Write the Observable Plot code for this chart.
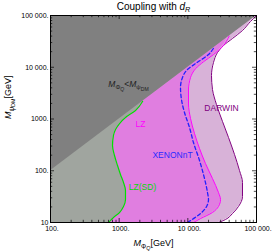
<!DOCTYPE html>
<html><head><meta charset="utf-8">
<script src="https://cdn.jsdelivr.net/npm/d3@7"></script>
<script src="https://cdn.jsdelivr.net/npm/@observablehq/plot@0.6"></script>
<style>html,body{margin:0;padding:0;background:#fff} svg{display:block}</style>
</head><body><div id="chart"></div>
<script>
// ---- data ----
const lzsdX = [700, 826, 1012, 1156, 1236, 1236, 1156, 1045, 946, 855, 800, 826, 885, 1012, 1236, 1730, 2200];
const lzsdY = [10, 12.5, 15.6, 20.4, 27.8, 41.5, 59.3, 84.7, 126, 197, 308, 480, 627, 818, 1069, 1459, 2200];

const lzX = [12080, 15280, 22850, 27940, 29900, 27940, 22850, 18070, 14790, 12500, 10940, 10230, 10230, 10940, 12950, 16900, 23640, 31990, 40000];
const lzY = [10, 11.9, 15.6, 20.4, 27.8, 38.0, 70.8, 138, 269, 525, 1024, 1950, 3630, 6340, 9380, 12770, 17600, 25180, 40000];

const xenonX = [9890, 12080, 15280, 18690, 19990, 19330, 16900, 14790, 12080, 10570, 8940, 8080, 7820, 8360, 9560, 12950, 19990, 24000];
const xenonY = [10, 11.9, 14.9, 20.2, 27.8, 38.0, 84.7, 158, 351, 686, 1336, 2380, 4060, 6340, 8650, 11800, 17600, 24000];

const darwinX = [27940, 35320, 44670, 54650, 62520, 62520, 56540, 47850, 39090, 31990, 26120, 22850, 22110, 23640, 27050, 33040, 44670, 62520, 81660, 100000];
const darwinY = [10, 11.4, 14.9, 20.4, 31.8, 59.3, 101, 206, 440, 895, 1905, 3720, 6930, 12360, 19280, 26300, 35950, 51290, 76560, 100000];

const xMajor = [100, 1000, 10000, 100000];
const xMajorLabels = ["100.", "1000.", "10 000.", "100 000."];
const yMajor = [10, 100, 1000, 10000, 100000];
const yMajorLabels = ["10", "100.", "1000.", "10 000.", "100 000."];

const titleText = "Coupling with d_R";
const xLabelText = "M_Φ_Q[GeV]";
const yLabelText = "M_ψ_DM[GeV]";
const regionText = "M_Φ_Q<M_ψ_DM";

// ---- layout ----
const W = 273, H = 252, mL = 50, mR = 17, mT = 15, mB = 30;
const fw = W - mL - mR, fh = H - mT - mB;
const xDom = [100, 100000], yDom = [10, 100000];

const pts = (X, Y) => X.map((x, i) => ({x, y: Y[i]}));
const green = pts(lzsdX, lzsdY), lz = pts(lzX, lzY), xenon = pts(xenonX, xenonY), darwin = pts(darwinX, darwinY);
// extend a region boundary along the diagonal M_DM = M_Phi (hidden under the grey triangle)
const diagSteps = [3000, 5000, 7000, 10000, 15000, 20000, 30000, 50000, 70000, 100000];
const ext = P => P.concat(diagSteps.filter(v => v > P[P.length - 1].y).map(v => ({x: v, y: v})));
const minorOf = (lo, hi) => { const o = []; for (let d = lo; d < hi; d *= 10) for (let k = 2; k <= 9; k++) o.push(k * d); return o; };
const xMinor = minorOf(xDom[0], xDom[1]), yMinor = minorOf(yDom[0], yDom[1]);

const annotations = [
  {t: regionText, x: 1368, y: 4640, c: "#1e1e1e"},
  {t: "LZ", x: 2046, y: 783, c: "#ff00ff"},
  {t: "XENONnT", x: 5985, y: 197, c: "#2a2aff"},
  {t: "LZ(SD)", x: 2188, y: 47.4, c: "#00dd00"},
  {t: "DARWIN", x: 30900, y: 1596, c: "#800080"}
];

const tick = {stroke: "black", strokeOpacity: 1, strokeWidth: 0.7};
const left = () => xDom[0];

const svg = Plot.plot({
  width: W, height: H, marginLeft: mL, marginRight: mR, marginTop: mT, marginBottom: mB,
  x: {type: "log", domain: xDom},
  y: {type: "log", domain: yDom},
  color: {type: "identity"},
  style: {fontFamily: "'Liberation Sans', Arial, sans-serif", fontSize: "7px", background: "white", color: "black", overflow: "visible"},
  marks: [
    Plot.areaX(ext(darwin), {y: "y", x1: left, x2: "x", fill: "#d8b2d8", curve: "monotone-y", clip: true}),
    Plot.areaX(ext(lz), {y: "y", x1: left, x2: "x", fill: "#e07ee0", curve: "monotone-y", clip: true}),
    Plot.areaX(ext(green), {y: "y", x1: left, x2: "x", fill: "#a0a59f", curve: "monotone-y", clip: true}),
    Plot.areaY(xDom, {x: d => d, y1: d => d, y2: () => yDom[1], fill: "#808080", clip: true}),
    Plot.line(darwin, {x: "x", y: "y", stroke: "#800080", strokeWidth: 1, curve: "monotone-y", clip: true}),
    Plot.line(lz, {x: "x", y: "y", stroke: "#ff00ff", strokeWidth: 1, curve: "monotone-y", clip: true}),
    Plot.line(xenon, {x: "x", y: "y", stroke: "#2020ff", strokeWidth: 1.3, strokeDasharray: "3.5,2.5", curve: "monotone-y", clip: true}),
    Plot.line(green, {x: "x", y: "y", stroke: "#00e000", strokeWidth: 1.2, curve: "monotone-y", clip: true}),
    Plot.frame({stroke: "black", strokeWidth: 1}),
    // inward ticks on all four sides
    Plot.gridX(xMajor, {...tick, insetTop: fh - 4}),
    Plot.gridX(xMajor, {...tick, insetBottom: fh - 4}),
    Plot.gridX(xMinor, {...tick, insetTop: fh - 2.2}),
    Plot.gridX(xMinor, {...tick, insetBottom: fh - 2.2}),
    Plot.gridY(yMajor, {...tick, insetRight: fw - 4}),
    Plot.gridY(yMajor, {...tick, insetLeft: fw - 4}),
    Plot.gridY(yMinor, {...tick, insetRight: fw - 2.2}),
    Plot.gridY(yMinor, {...tick, insetLeft: fw - 2.2}),
    Plot.axisX(xMajor, {anchor: "bottom", tickSize: 0, tickPadding: 4, dx: 1.5, label: null, fontSize: 7,
      tickFormat: d => xMajorLabels[xMajor.indexOf(d)]}),
    Plot.axisY(yMajor, {anchor: "left", tickSize: 0, tickPadding: 2, label: null, fontSize: 7,
      tickFormat: d => yMajorLabels[yMajor.indexOf(d)]}),
    Plot.text([titleText], {text: d => d, frameAnchor: "top", dy: -9, fontSize: 10, lineAnchor: "middle"}),
    Plot.text([xLabelText], {text: d => d, frameAnchor: "bottom", dy: 21, fontSize: 9, lineAnchor: "middle"}),
    Plot.text([yLabelText], {text: d => d, frameAnchor: "left", dx: -42, rotate: -90, fontSize: 9, lineAnchor: "middle"}),
    Plot.text(annotations, {x: "x", y: "y", text: "t", fill: "c", fontSize: 8.5, lineAnchor: "middle"})
  ]
});

// rich text (italic, subscripts)
const NS = "http://www.w3.org/2000/svg";
const richSpecs = {
  [titleText]: [{t: "Coupling with "}, {t: "d", i: 1}, {t: "R", i: 1, s: 1}],
  [xLabelText]: [{t: "M", i: 1}, {t: "Φ", s: 1}, {t: "Q", i: 1, s: 2}, {t: "[GeV]"}],
  [yLabelText]: [{t: "M", i: 1}, {t: "ψ", s: 1}, {t: "DM", s: 2}, {t: "[GeV]"}],
  [regionText]: [{t: "M", i: 1}, {t: "Φ", s: 1}, {t: "Q", i: 1, s: 2}, {t: "<"}, {t: "M", i: 1}, {t: "ψ", s: 1}, {t: "DM", s: 2}]
};
function rich(el, parts, base) {
  while (el.firstChild) el.removeChild(el.firstChild);
  let off = 0;
  for (const p of parts) {
    const t = document.createElementNS(NS, "tspan");
    const lvl = p.s || 0;
    const target = [0, 0.24, 0.42][lvl] * base;
    if (target !== off) t.setAttribute("dy", (target - off).toFixed(2));
    off = target;
    t.setAttribute("font-size", ([1, 0.72, 0.6][lvl] * base).toFixed(2));
    if (p.i) t.setAttribute("font-style", "italic");
    t.textContent = p.t;
    el.appendChild(t);
  }
}
svg.querySelectorAll("text").forEach(el => {
  const spec = richSpecs[el.textContent];
  if (spec) {
    const fs = parseFloat(el.getAttribute("font-size") || el.parentNode.getAttribute("font-size") || "9");
    rich(el, spec, fs);
  }
});
document.getElementById("chart").appendChild(svg);
</script>
</body></html>
